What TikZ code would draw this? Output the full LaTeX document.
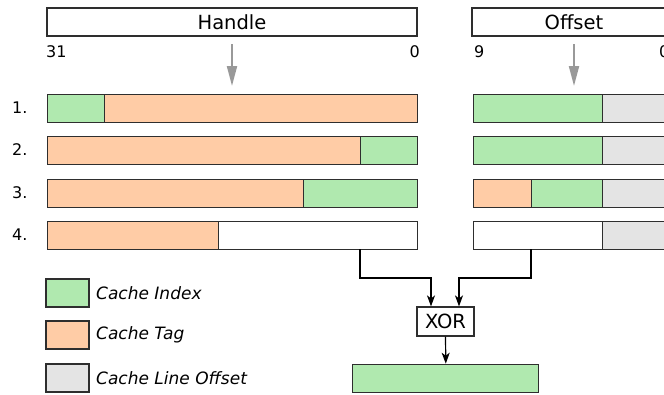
\documentclass[tikz,border=0pt]{standalone}
\usepackage{fontspec}
\setmainfont{DejaVu Sans}
\usetikzlibrary{arrows.meta}
\definecolor{idxgreen}{HTML}{B0E9AF}
\definecolor{tagpeach}{HTML}{FFCCA6}
\definecolor{offgray}{HTML}{E4E4E4}
\definecolor{edge}{HTML}{2E2E2E}
\definecolor{hint}{HTML}{999999}
\tikzset{
  seg/.style={draw=edge, line width=1.2pt, inner sep=0pt, anchor=north west, minimum height=28pt},
  field/.style={draw=edge, line width=1.2pt, inner sep=0pt, minimum height=28pt,
    font=\fontsize{19.5}{22}\selectfont},
  bitnum/.style={inner sep=0pt, font=\fontsize{16}{18}\selectfont},
  rowlabel/.style={inner sep=0pt, anchor=west, font=\fontsize{16}{18}\selectfont},
  legbox/.style={draw=edge, line width=1.2pt, inner sep=0pt, minimum width=43pt, minimum height=28pt},
  legtext/.style={inner sep=0pt, anchor=west, font=\fontsize{17}{19}\selectfont\itshape},
  hintarrow/.style={draw=hint, line width=2pt, -{Triangle[length=20pt,width=10pt]}},
  conn/.style={draw=black, line width=1.2pt, -{Stealth[length=11pt,width=8pt,inset=3pt]}},
}
\begin{document}
\begin{tikzpicture}[x=1pt,y=-1pt]
\useasboundingbox (0,0) rectangle (664,394);
\clip (0,0) rectangle (664,394);

% register headers
\node[field, minimum width=370pt] (handle) at (232,22) {Handle};
\node[field, minimum width=204pt] (offset) at (574,22) {Offset};
\node[bitnum, anchor=west] (h31) at (46,52) {31};
\node[bitnum, anchor=east] (h0) at (420,52) {0};
\node[bitnum, anchor=west] (o9) at (474,52) {9};
\node[bitnum, anchor=west] (o0) at (659,52) {0};

% field-split hints
\coordinate (hA) at (232,44);
\coordinate (hB) at (232,86);
\coordinate (oA) at (574,44);
\coordinate (oB) at (574,86);
\draw[hintarrow] (hA) -- (hB);
\draw[hintarrow] (oA) -- (oB);

% row numbers
\node[rowlabel] (r1) at (12,108) {1.};
\node[rowlabel] (r2) at (12,150) {2.};
\node[rowlabel] (r3) at (12,193) {3.};
\node[rowlabel] (r4) at (12,235) {4.};

% handle layouts
\node[seg, fill=idxgreen, minimum width=57pt]  (h1a) at (47,94) {};
\node[seg, fill=tagpeach, minimum width=313pt] (h1b) at (104,94) {};
\node[seg, fill=tagpeach, minimum width=313pt] (h2a) at (47,136) {};
\node[seg, fill=idxgreen, minimum width=57pt]  (h2b) at (360,136) {};
\node[seg, fill=tagpeach, minimum width=256pt] (h3a) at (47,179) {};
\node[seg, fill=idxgreen, minimum width=114pt] (h3b) at (303,179) {};
\node[seg, fill=tagpeach, minimum width=171pt] (h4a) at (47,221) {};
\node[seg, fill=white, minimum width=199pt]    (h4b) at (218,221) {};

% offset layouts
\node[seg, fill=idxgreen, minimum width=129pt] (o1a) at (473,94) {};
\node[seg, fill=offgray, minimum width=74pt]   (o1b) at (602,94) {};
\node[seg, fill=idxgreen, minimum width=129pt] (o2a) at (473,136) {};
\node[seg, fill=offgray, minimum width=74pt]   (o2b) at (602,136) {};
\node[seg, fill=tagpeach, minimum width=58pt]  (o3a) at (473,179) {};
\node[seg, fill=idxgreen, minimum width=71pt]  (o3b) at (531,179) {};
\node[seg, fill=offgray, minimum width=74pt]   (o3c) at (602,179) {};
\node[seg, fill=white, minimum width=129pt]    (o4a) at (473,221) {};
\node[seg, fill=offgray, minimum width=74pt]   (o4b) at (602,221) {};

% legend
\node[legbox, fill=idxgreen] (lg1) at (67.5,293) {};
\node[legbox, fill=tagpeach] (lg2) at (67.5,335) {};
\node[legbox, fill=offgray]  (lg3) at (67.5,378) {};
\node[legtext] (lt1) at (96,293) {Cache Index};
\node[legtext] (lt2) at (96,335) {Cache Tag};
\node[legtext] (lt3) at (96,378) {Cache Line Offset};

% xor stage
\node[field, minimum width=57pt, minimum height=29pt] (xor) at (445.5,321.5) {XOR};
\node[field, fill=idxgreen, minimum width=186pt] (result) at (445.8,378.3) {};

\coordinate (hout) at (360,249);
\coordinate (oout) at (531,249);
\draw[conn] (hout) -- ++(0,29) -| ([xshift=-14.5pt]xor.north);
\draw[conn] (oout) -- ++(0,29) -| ([xshift=13.5pt]xor.north);
\draw[conn] (xor.south) -- (result.north);
\end{tikzpicture}
\end{document}
